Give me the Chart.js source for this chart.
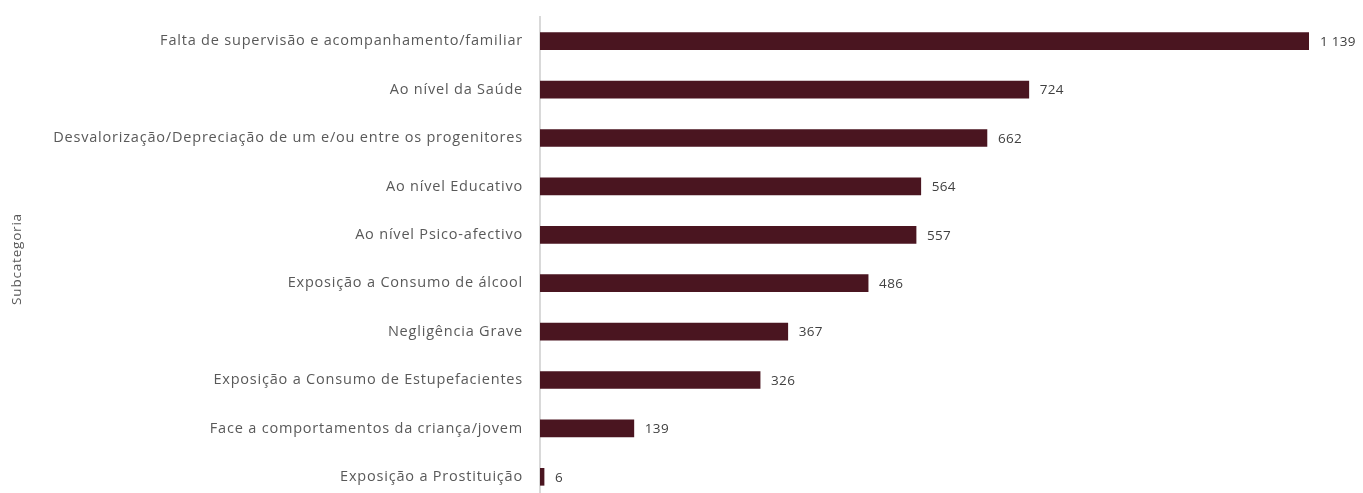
<!DOCTYPE html>
<html lang="pt">
<head>
  <meta charset="UTF-8">
  <title>Subcategoria</title>
  <style>
    html, body {
        margin: 0;
        padding: 0;
        background: #fff;
        overflow: hidden;
    }
    .wrap {
        width: 1363px;
        height: 501px;
    }
  </style>
</head>
<body>
  <div class="wrap">
    <canvas id="chart" width="1363" height="501"></canvas>
  </div>

  <script src="https://cdn.jsdelivr.net/npm/chart.js"></script>
  <script>
    const categories = [
      'Falta de supervisão e acompanhamento/familiar',
      'Ao nível da Saúde',
      'Desvalorização/Depreciação de um e/ou entre os progenitores',
      'Ao nível Educativo',
      'Ao nível Psico-afectivo',
      'Exposição a Consumo de álcool',
      'Negligência Grave',
      'Exposição a Consumo de Estupefacientes',
      'Face a comportamentos da criança/jovem',
      'Exposição a Prostituição'
    ];
    const values = [1139, 724, 662, 564, 557, 486, 367, 326, 139, 6];

    // thousands separated by a space, like "1 139"
    function fmt(v) {
      return String(v).replace(/\B(?=(\d{3})+(?!\d))/g, ' ');
    }

    // the original font is a bit more spaced out
    const spacing = {
      id: 'spacing',
      beforeLayout(chart) { chart.ctx.letterSpacing = '0.8px'; },
      beforeDraw(chart) { chart.ctx.letterSpacing = '0.8px'; }
    };

    // value labels at the end of each bar
    const valueLabels = {
      id: 'valueLabels',
      afterDatasetsDraw(chart) {
        const ctx = chart.ctx;
        const meta = chart.getDatasetMeta(0);
        ctx.save();
        ctx.letterSpacing = '0.3px';
        ctx.font = '13.5px "Open Sans"';
        ctx.fillStyle = '#404040';
        ctx.textAlign = 'left';
        ctx.textBaseline = 'middle';
        meta.data.forEach((bar, i) => {
          ctx.fillText(fmt(values[i]), bar.x + 11, bar.y + 1);
        });
        ctx.restore();
      }
    };

    new Chart(document.getElementById('chart'), {
      type: 'bar',
      data: {
        labels: categories,
        datasets: [{
          data: values,
          backgroundColor: '#4a1520',
          barThickness: 17
        }]
      },
      options: {
        indexAxis: 'y',
        responsive: false,
        animation: false,
        layout: { padding: { top: 17, right: 54, bottom: 0, left: 0 } },
        plugins: {
          legend: { display: false },
          tooltip: { enabled: false }
        },
        scales: {
          x: {
            display: false,
            min: 0,
            max: Math.max(...values)
          },
          y: {
            afterFit(scale) {
              scale.width = 540;
              scale.paddingTop = 0;
              scale.paddingBottom = 0;
            },
            grid: { display: false, drawTicks: false },
            border: { display: true, color: '#d9d9d9', width: 2 },
            ticks: {
              color: '#595959',
              padding: 17,
              font: { family: 'Open Sans', size: 14.5 }
            },
            title: {
              display: true,
              text: 'Subcategoria',
              color: '#595959',
              padding: { top: 9, bottom: 0 },
              font: { family: 'Open Sans', size: 13.5 }
            }
          }
        }
      },
      plugins: [spacing, valueLabels]
    });
  </script>
</body>
</html>
